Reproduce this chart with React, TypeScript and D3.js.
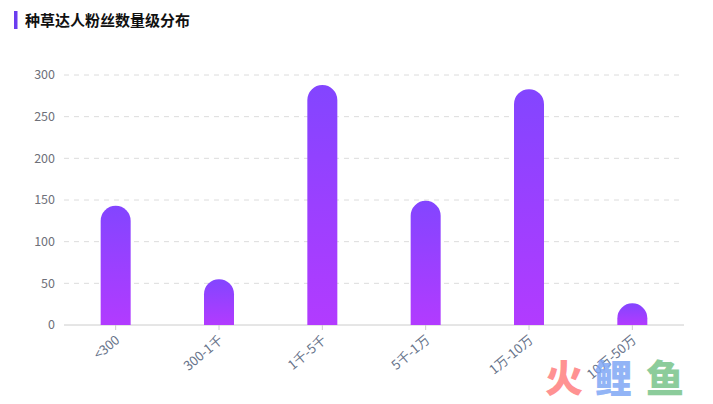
import React from "react";
import { scaleBand, scaleLinear } from "d3";

const categories = ["<300", "300-1千", "1千-5千", "5千-1万", "1万-10万", "10万-50万"];
const values = [143, 55, 288, 149, 283, 26];
const yTicks = [0, 50, 100, 150, 200, 250, 300];

const W = 713;
const H = 404;
const margin = { left: 64, right: 29, top: 75, bottom: 79 };

const App: React.FC = () => {
  const x = scaleBand<string>()
    .domain(categories)
    .range([margin.left, W - margin.right]);
  const y = scaleLinear()
    .domain([0, 300])
    .range([H - margin.bottom, margin.top]);
  const barW = 30;
  const r = barW / 2;
  const font = "'Noto Sans CJK SC', 'Noto Sans', sans-serif";

  const barPath = (cx: number, v: number) => {
    const x0 = cx - barW / 2;
    const x1 = cx + barW / 2;
    const yb = y(0);
    const yt = y(v);
    const rr = Math.min(r, yb - yt);
    return `M${x0},${yb} L${x0},${yt + rr} A${r},${rr} 0 0 1 ${x1},${yt + rr} L${x1},${yb} Z`;
  };

  return (
    <div style={{ position: "absolute", left: 0, top: 0 }}>
      <svg width={W} height={H} style={{ fontFamily: font, display: "block" }}>
        <defs>
          <linearGradient id="barGrad" x1="0" y1="0" x2="0" y2="1">
            <stop offset="0%" stopColor="#8345ff" />
            <stop offset="100%" stopColor="#b23bff" />
          </linearGradient>
        </defs>
        <rect x={14} y={11} width={3.5} height={18} fill="#6a3df0" />
        <text x={25} y={26} fontSize={15} fontWeight="bold" fill="#111">
          种草达人粉丝数量级分布
        </text>

        {yTicks.map((t) => (
          <g key={t}>
            {t > 0 && (
              <line
                x1={margin.left}
                x2={W - margin.right}
                y1={y(t)}
                y2={y(t)}
                stroke="#dcdcdc"
                strokeDasharray="5,5"
              />
            )}
            <text
              x={55}
              y={y(t)}
              dy="0.35em"
              textAnchor="end"
              fontSize={12.5}
              fill="#6e7079"
            >
              {t}
            </text>
          </g>
        ))}

        <line
          x1={margin.left}
          x2={W - margin.right}
          y1={y(0)}
          y2={y(0)}
          stroke="#cccccc"
        />

        {categories.map((c, i) => {
          const cx = (x(c) as number) + x.bandwidth() / 2;
          return (
            <g key={c}>
              <path d={barPath(cx, values[i])} fill="url(#barGrad)" />
              <line x1={cx} x2={cx} y1={y(0)} y2={y(0) + 5} stroke="#cccccc" />
              <text
                transform={`translate(${cx + 2},${y(0) + 13}) rotate(-40)`}
                textAnchor="end"
                dy="0.35em"
                fontSize={13}
                fill="#67738a"
              >
                {c}
              </text>
            </g>
          );
        })}

        <g fontSize={38} fontWeight="900" opacity={0.85}>
          <text x={545} y={392} fill="#ff8080">火</text>
          <text x={594} y={392} fill="#80a8f5">鲤</text>
          <text x={646} y={392} fill="#78c48a">鱼</text>
        </g>
      </svg>
    </div>
  );
};

export default App;
